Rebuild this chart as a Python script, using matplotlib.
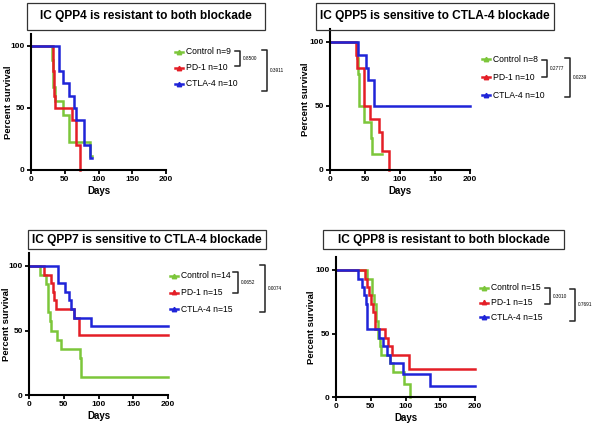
import matplotlib
matplotlib.use('Agg')
import matplotlib.pyplot as plt
from matplotlib.lines import Line2D
from matplotlib.patches import Rectangle

W, H = 597, 429
GREEN = '#7CC63A'
RED = '#E41E26'
BLUE = '#1F24D8'
FONT = ['Liberation Sans', 'DejaVu Sans']

titles = ['IC QPP4 is resistant to both blockade',
          'IC QPP5 is sensitive to CTLA-4 blockade',
          'IC QPP7 is sensitive to CTLA-4 blockade',
          'IC QPP8 is resistant to both blockade']
series_names = ['Control', 'PD-1', 'CTLA-4']
group_sizes = [[9, 10, 10], [8, 10, 10], [14, 15, 15], [15, 15, 15]]
p_pairs = [['0.8500', '0.3911'], ['0.2777', '0.0239'],
           ['0.0652', '0.0074'], ['0.3010', '0.7691']]

# QPP4
q4_ctrl_t = [0, 31, 33, 35, 47, 57, 88]
q4_ctrl_s = [100, 88.9, 66.7, 55.6, 44.4, 22.2, 11.1]
q4_pd1_t = [0, 32, 33, 34, 36, 61, 67, 72]
q4_pd1_s = [100, 90, 80, 60, 50, 40, 20, 0]
q4_ctla_t = [0, 42, 48, 56, 63, 66, 78, 88]
q4_ctla_s = [100, 80, 70, 60, 50, 40, 20, 10]
q4_end = [90, 72, 91]

# QPP5
q5_ctrl_t = [0, 38, 40, 41, 48, 58, 60]
q5_ctrl_s = [100, 87.5, 75, 50, 37.5, 25, 12.5]
q5_pd1_t = [0, 37, 39, 49, 57, 70, 75, 84]
q5_pd1_s = [100, 90, 80, 50, 40, 30, 15, 0]
q5_ctla_t = [0, 40, 51, 55, 63]
q5_ctla_s = [100, 90, 80, 70, 50]
q5_end = [75, 84, 200]

# QPP7
q7_ctrl_t = [0, 16, 24, 27, 28, 30, 31, 40, 46, 74, 75]
q7_ctrl_s = [100, 92.9, 85.7, 71.4, 64.3, 57.1, 50, 42.9, 35.7, 28.6, 14.3]
q7_pd1_t = [0, 22, 31, 34, 36, 39, 65, 72]
q7_pd1_s = [100, 93.3, 86.7, 80, 73.3, 66.7, 60, 46.7]
q7_ctla_t = [0, 42, 52, 57, 60, 65, 89]
q7_ctla_s = [100, 86.7, 80, 73.3, 66.7, 60, 53.3]
q7_end = [200, 200, 200]

# QPP8
q8_ctrl_t = [0, 44, 52, 55, 58, 61, 63, 65, 78, 82, 98, 106]
q8_ctrl_s = [100, 93.3, 80, 73.3, 60, 46.7, 40, 33.3, 26.7, 20, 10, 0]
q8_pd1_t = [0, 42, 45, 48, 51, 53, 56, 70, 75, 80, 105]
q8_pd1_s = [100, 93.3, 86.7, 80, 73.3, 66.7, 53.3, 46.7, 40, 33.3, 22.2]
q8_ctla_t = [0, 32, 38, 41, 43, 45, 62, 67, 74, 77, 97, 135]
q8_ctla_s = [100, 93.3, 86.7, 80, 73.3, 53.3, 46.7, 40, 33.3, 26.7, 17.8, 8.9]
q8_end = [106, 200, 200]

curves = [
    [(q4_ctrl_t, q4_ctrl_s), (q4_pd1_t, q4_pd1_s), (q4_ctla_t, q4_ctla_s)],
    [(q5_ctrl_t, q5_ctrl_s), (q5_pd1_t, q5_pd1_s), (q5_ctla_t, q5_ctla_s)],
    [(q7_ctrl_t, q7_ctrl_s), (q7_pd1_t, q7_pd1_s), (q7_ctla_t, q7_ctla_s)],
    [(q8_ctrl_t, q8_ctrl_s), (q8_pd1_t, q8_pd1_s), (q8_ctla_t, q8_ctla_s)],
]
ends = [q4_end, q5_end, q7_end, q8_end]
colors = [GREEN, RED, BLUE]

# layout in pixels: axes (x0, x_200, y_0, y_100), title box, legend, brackets
axes_px = [(31, 166, 170, 46), (330, 470, 170, 42),
           (29, 168, 395, 266), (336, 475, 397, 270)]
ylabel_x = [13, 310, 11, 316]
box_px = [(27, 3, 265, 30), (316, 3, 554, 30),
          (28, 230, 266, 249), (323, 230, 564, 249)]
legend_px = [(175, 52, 16), (482, 59, 18), (170, 276, 16.5), (480, 288, 14.5)]
bracket_px = [((240, 51, 66), (267, 50, 91)),
              ((547, 60, 77), (570, 58, 97)),
              ((238, 272, 293), (265, 265, 312)),
              ((550, 288, 304), (575, 289, 321))]


def fx(x):
    return x / W


def fy(y):
    return 1 - y / H


fig = plt.figure(figsize=(W / 100, H / 100), dpi=100)

for i in range(4):
    x0, x1, y0, y100 = axes_px[i]
    per = (y0 - y100) / 100.0
    ytop = y0 - 110 * per
    ax = fig.add_axes([fx(x0), fy(y0), (x1 - x0) / W, (y0 - ytop) / H])
    for k in range(3):
        t, s = curves[i][k]
        tt = list(t) + [ends[i][k]]
        ss = list(s) + [s[-1]]
        ax.step(tt, ss, where='post', color=colors[k], lw=1.8, clip_on=False,
                solid_joinstyle='miter')
    ax.set_xlim(0, 200)
    ax.set_ylim(0, 110)
    ax.set_xticks([0, 50, 100, 150, 200])
    ax.set_yticks([0, 50, 100])
    ax.spines['top'].set_visible(False)
    ax.spines['right'].set_visible(False)
    for sp in ('left', 'bottom'):
        ax.spines[sp].set_linewidth(1.5)
    ax.tick_params(direction='out', length=3, width=1.3, labelsize=6, pad=1.5)
    for lab in ax.get_xticklabels() + ax.get_yticklabels():
        lab.set_family(FONT)
        lab.set_fontweight('bold')
    ax.set_xlabel('Days', fontsize=7, fontweight='bold', family=FONT, labelpad=2)
    ax.set_ylabel('Percent survival', fontsize=6.8, fontweight='bold', family=FONT)
    ax.yaxis.set_label_coords((ylabel_x[i] - x0) / (x1 - x0), 0.5)
    ax.patch.set_alpha(0)

    # title box
    bx0, by0, bx1, by1 = box_px[i]
    fig.add_artist(Rectangle((fx(bx0), fy(by1)), (bx1 - bx0) / W, (by1 - by0) / H,
                             transform=fig.transFigure, fill=False,
                             edgecolor='#333333', lw=0.9))
    fig.text(fx((bx0 + bx1) / 2), fy((by0 + by1) / 2), titles[i],
             ha='center', va='center', fontsize=8.6, fontweight='bold',
             family=FONT)

    # legend
    lx, ly, dy = legend_px[i]
    for k in range(3):
        yy = ly + k * dy
        fig.add_artist(Line2D([fx(lx), fx(lx + 8)], [fy(yy), fy(yy)],
                              transform=fig.transFigure, color=colors[k], lw=1.8))
        fig.add_artist(Line2D([fx(lx + 4)], [fy(yy - 0.5)],
                              transform=fig.transFigure, color=colors[k],
                              marker='^', ms=3.2, lw=0))
        fig.text(fx(lx + 11), fy(yy), '%s n=%d' % (series_names[k], group_sizes[i][k]),
                 ha='left', va='center', fontsize=6.2, family=FONT)

    # brackets with p values
    for j, (bxx, bt, bb) in enumerate(bracket_px[i]):
        fig.add_artist(Line2D([fx(bxx - 5), fx(bxx), fx(bxx), fx(bxx - 5)],
                              [fy(bt), fy(bt), fy(bb), fy(bb)],
                              transform=fig.transFigure, color='#222222', lw=1.1))
        fig.text(fx(bxx + 3), fy((bt + bb) / 2), p_pairs[i][j],
                 ha='left', va='center', fontsize=3.4, family=FONT)

fig.savefig('out.png', dpi=100)
